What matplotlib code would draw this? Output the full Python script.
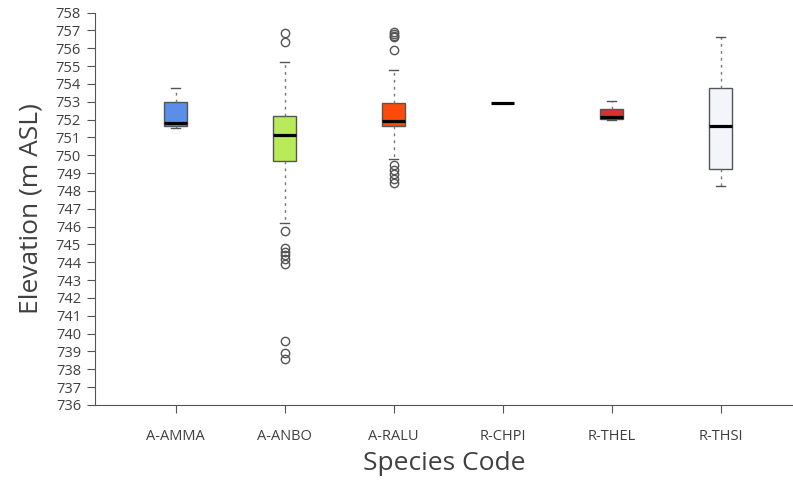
import matplotlib
matplotlib.use("Agg")
import matplotlib.pyplot as plt

species = ["A-AMMA", "A-ANBO", "A-RALU", "R-CHPI", "R-THEL", "R-THSI"]
box_colors = ["#5b8ee8", "#b8ea5a", "#ff4a0a", "#222222", "#d93030", "#f4f4fb"]

whislo = [751.5, 746.2, 749.8, 752.93, 752.0, 748.25]
q1 = [751.65, 749.65, 751.62, 752.93, 752.03, 749.22]
med = [751.8, 751.13, 751.94, 752.93, 752.13, 751.62]
q3 = [753.0, 752.22, 752.93, 752.93, 752.6, 753.76]
whishi = [753.78, 755.23, 754.77, 752.93, 753.03, 756.61]
fliers = [
    [],
    [756.87, 756.37, 745.75, 744.78, 744.57, 744.38, 744.16, 743.93, 739.6, 738.94, 738.59],
    [756.9, 756.8, 756.7, 756.6, 755.88, 749.45, 749.2, 748.95, 748.66, 748.43],
    [],
    [],
    [],
]

stats = []
for i, name in enumerate(species):
    stats.append({
        "label": name, "whislo": whislo[i], "q1": q1[i], "med": med[i],
        "q3": q3[i], "whishi": whishi[i], "fliers": fliers[i],
    })

plt.rcParams["font.family"] = ["Open Sans", "DejaVu Sans"]
fig = plt.figure(figsize=(7.93, 4.83), dpi=100)
ax = fig.add_axes([0.1198, 0.1615, 0.8802, 0.8126])

bp = ax.bxp(
    stats, positions=range(1, 7), widths=0.21, capwidths=0.09, patch_artist=True,
    boxprops=dict(edgecolor="#555555", linewidth=1.0),
    medianprops=dict(color="black", linewidth=2.3),
    whiskerprops=dict(color="#777777", linestyle=(0, (2, 3)), linewidth=1.0),
    capprops=dict(color="#555555", linewidth=1.0),
    flierprops=dict(marker="o", markerfacecolor="none", markeredgecolor="#555555",
                    markersize=6, markeredgewidth=1.0),
)
for patch, c in zip(bp["boxes"], box_colors):
    patch.set_facecolor(c)
bp["boxes"][3].set_edgecolor("none")

ax.set_xlim(0.261, 6.665)
ax.set_ylim(736, 758)
ax.set_yticks(range(736, 759))
ax.spines["top"].set_visible(False)
ax.spines["right"].set_visible(False)
for s in ("left", "bottom"):
    ax.spines[s].set_color("#555555")
ax.tick_params(axis="both", colors="#555555", labelcolor="#404040", labelsize=10.5, length=6)
ax.tick_params(axis="y", pad=4)
ax.tick_params(axis="x", pad=11)

ax.set_xlabel("Species Code", fontsize=19, color="#404040", labelpad=5)
ax.set_ylabel("Elevation (m ASL)", fontsize=19, color="#404040", labelpad=9)

fig.savefig("out.png", dpi=100)
